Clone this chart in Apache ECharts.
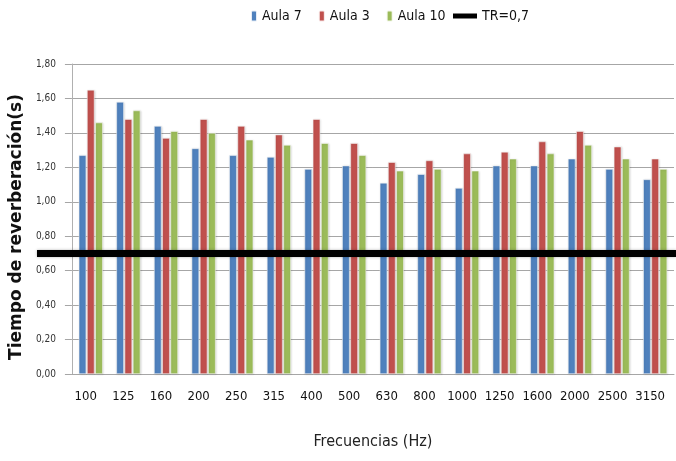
<!DOCTYPE html>
<html>
<head>
<meta charset="utf-8">
<script src="https://cdn.jsdelivr.net/npm/echarts@6/dist/echarts.min.js"></script>
<style>html,body{margin:0;padding:0;background:#fff}#c{width:676px;height:461px}</style>
</head>
<body>
<div id="c"></div>
<script>
const categories = ['100','125','160','200','250','315','400','500','630','800','1000','1250','1600','2000','2500','3150'];
const aula7  = [1.27,1.58,1.44,1.31,1.27,1.26,1.19,1.21,1.11,1.16,1.08,1.21,1.21,1.25,1.19,1.13];
const aula3  = [1.65,1.48,1.37,1.48,1.44,1.39,1.48,1.34,1.23,1.24,1.28,1.29,1.35,1.41,1.32,1.25];
const aula10 = [1.46,1.53,1.41,1.40,1.36,1.33,1.34,1.27,1.18,1.19,1.18,1.25,1.28,1.33,1.25,1.19];
const trValue = 0.7;
const yTicks = [0,0.2,0.4,0.6,0.8,1.0,1.2,1.4,1.6,1.8];

const narrow = "'Liberation Sans Narrow','DejaVu Sans Condensed',sans-serif";
const chart = echarts.init(document.getElementById('c'), null, {renderer:'canvas'});

function barSeries(name, data, color){
  return {
    name, type:'bar', data, xAxisIndex:0, yAxisIndex:0,
    barWidth:7.5, barGap:'10%', barCategoryGap:'36%',
    itemStyle:{color, borderColor:'rgba(255,255,255,0.85)', borderWidth:0.6,
      shadowColor:'rgba(0,0,0,0.18)', shadowBlur:2, shadowOffsetX:0.5, shadowOffsetY:0.5},
    emphasis:{disabled:true}
  };
}

chart.setOption({
  animation:false,
  backgroundColor:'#fff',
  legend:[{
    top:4, left:245, itemWidth:6, itemHeight:11, itemGap:16,
    textStyle:{fontFamily:narrow, fontSize:14, color:'#111'},
    data:['Aula 7','Aula 3','Aula 10']
  },{
    top:4, left:448, itemWidth:24, itemHeight:5,
    textStyle:{fontFamily:narrow, fontSize:14, color:'#111'},
    data:[{name:'TR=0,7', icon:'rect', itemStyle:{color:'#000'}}]
  }],
  grid:[
    {left:70, right:2, top:64, bottom:87},
    {left:37, right:0, top:64, bottom:87}
  ],
  xAxis:[{
    type:'category', data:categories, gridIndex:0,
    name:'Frecuencias (Hz)', nameLocation:'middle', nameGap:60,
    nameTextStyle:{fontFamily:narrow, fontSize:16, color:'#222'},
    axisLine:{lineStyle:{color:'#a6a6a6', width:1}},
    axisTick:{show:false},
    axisLabel:{interval:0, fontFamily:narrow, fontSize:13, color:'#111', margin:16, padding:[0,10,0,0]}
  },{
    type:'value', gridIndex:1, min:0, max:1, show:false
  }],
  yAxis:[{
    type:'value', gridIndex:0, min:0, max:1.8, interval:0.2,
    name:'Tiempo de reverberación(s)', nameLocation:'middle', nameGap:41,
    nameTextStyle:{fontFamily:"'DejaVu Sans',sans-serif", fontWeight:'bold', fontSize:17, color:'#111', padding:[0,16,0,0]},
    axisLine:{show:true, lineStyle:{color:'#b0b0b0'}},
    axisTick:{show:true, length:7, inside:false, lineStyle:{color:'#a6a6a6'}},
    splitLine:{lineStyle:{color:'#a6a6a6', width:1}},
    axisLabel:{fontFamily:narrow, fontSize:10, color:'#333', margin:16,
      formatter:v=>v.toFixed(2).replace('.',',')}
  },{
    type:'value', gridIndex:1, min:0, max:1.8, show:false
  }],
  series:[
    barSeries('Aula 7', aula7, '#4F81BD'),
    barSeries('Aula 3', aula3, '#C0504D'),
    barSeries('Aula 10', aula10, '#9BBB59'),
    {
      name:'TR=0,7', type:'line', xAxisIndex:1, yAxisIndex:1,
      data:[[0,trValue],[1,trValue]], symbol:'none', z:10,
      lineStyle:{color:'#000', width:7, shadowColor:'rgba(0,0,0,0.3)', shadowBlur:3},
      itemStyle:{color:'#000'},
      emphasis:{disabled:true}
    }
  ]
});
</script>
</body>
</html>
